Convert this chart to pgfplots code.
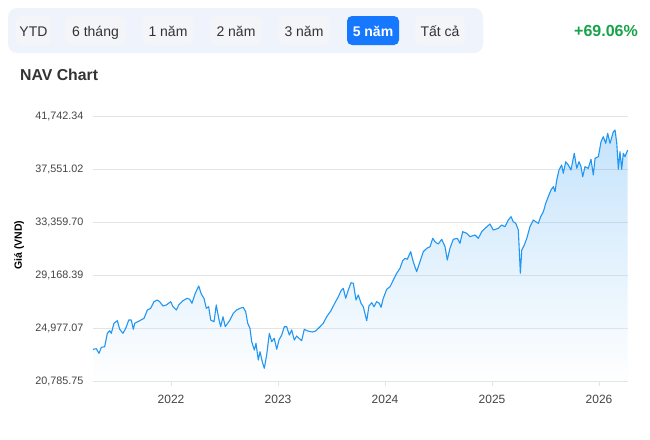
\documentclass[border=0pt]{standalone}
\usepackage{fontspec}
\setmainfont{Liberation Sans}
\usepackage{pgfplots}
\pgfplotsset{compat=1.18}
\usepackage{pgfplotstable}
\definecolor{navline}{RGB}{33,150,243}
\definecolor{barbg}{RGB}{239,244,252}
\definecolor{btnbg}{RGB}{243,245,249}
\definecolor{selbtn}{RGB}{22,119,255}
\definecolor{btntext}{RGB}{51,51,51}
\definecolor{pctgreen}{RGB}{22,163,74}
\definecolor{titletext}{RGB}{51,51,51}
\definecolor{ticktext}{RGB}{68,68,68}
\definecolor{gridc}{RGB}{228,228,228}

\pgfplotstableread{
x y
2021.271 23292
2021.302 23340
2021.327 22976
2021.349 23451
2021.380 23498
2021.405 24558
2021.427 24763
2021.442 24558
2021.467 25349
2021.498 25554
2021.521 24874
2021.551 24558
2021.577 24953
2021.605 25610
2021.629 25610
2021.648 24874
2021.661 25349
2021.707 25554
2021.748 25744
2021.779 26400
2021.810 26535
2021.841 27057
2021.872 27191
2021.894 27057
2021.925 26717
2021.956 26796
2021.997 27057
2022.019 26661
2022.050 26400
2022.072 26796
2022.112 27136
2022.150 27326
2022.175 27247
2022.196 26930
2022.227 27721
2022.259 28298
2022.283 27666
2022.308 27326
2022.330 26535
2022.352 26661
2022.371 25610
2022.402 25475
2022.423 26796
2022.446 25744
2022.464 25080
2022.486 25871
2022.507 25080
2022.551 25610
2022.582 26140
2022.614 26400
2022.645 26535
2022.675 26614
2022.698 26266
2022.717 25349
2022.738 24953
2022.754 23894
2022.779 23237
2022.794 23767
2022.816 22446
2022.832 23103
2022.853 22312
2022.872 21790
2022.894 22842
2022.919 24558
2022.941 23894
2022.965 24162
2022.988 23292
2023.009 24028
2023.035 24423
2023.059 25080
2023.081 25080
2023.106 24423
2023.128 24819
2023.152 24028
2023.175 24344
2023.196 24162
2023.221 23973
2023.246 24874
2023.278 24740
2023.321 24661
2023.352 24740
2023.393 25080
2023.423 25349
2023.455 25871
2023.495 26345
2023.533 26978
2023.564 27452
2023.589 27927
2023.610 28117
2023.633 27326
2023.657 27982
2023.682 28559
2023.704 28512
2023.729 27191
2023.750 27587
2023.776 26930
2023.797 26661
2023.829 25554
2023.850 26717
2023.876 26978
2023.897 26661
2023.922 27057
2023.947 26930
2023.963 26614
2023.984 27326
2024.016 28038
2024.047 28243
2024.078 28773
2024.109 29303
2024.140 29698
2024.165 30299
2024.187 30489
2024.208 30410
2024.240 31011
2024.264 30220
2024.296 29429
2024.327 30220
2024.358 31011
2024.390 31280
2024.421 31406
2024.446 32071
2024.467 31802
2024.498 31620
2024.530 31991
2024.561 31406
2024.582 30354
2024.607 31280
2024.638 31991
2024.676 32071
2024.701 31675
2024.726 32592
2024.764 32466
2024.794 32197
2024.841 32331
2024.872 32071
2024.904 32592
2024.935 32861
2024.981 33201
2025.012 32727
2025.059 32861
2025.091 33122
2025.121 32988
2025.152 33518
2025.178 33779
2025.199 33383
2025.222 33257
2025.246 32727
2025.265 29303
2025.278 31145
2025.302 31541
2025.325 32071
2025.355 32988
2025.386 33518
2025.409 33383
2025.433 33257
2025.455 33779
2025.480 34174
2025.502 34838
2025.526 35360
2025.551 35890
2025.573 36151
2025.589 35756
2025.605 36681
2025.626 37472
2025.651 37867
2025.666 37211
2025.689 38128
2025.713 37867
2025.738 37472
2025.769 38793
2025.792 37606
2025.813 38128
2025.832 37733
2025.848 36942
2025.869 37733
2025.900 37606
2025.925 38318
2025.947 37076
2025.963 38397
2025.994 38524
2026.019 39710
2026.040 40105
2026.063 39583
2026.081 40374
2026.103 39583
2026.134 40500
2026.150 40635
2026.166 39583
2026.181 37527
2026.196 38919
2026.212 37527
2026.227 38793
2026.243 38524
2026.268 39053
}\navdata

\begin{document}
\begin{tikzpicture}[x=1pt,y=1pt]
\useasboundingbox (0,0) rectangle (650,-439);
\fill[white] (0,0) rectangle (650,-439);
% range selector bar
\fill[barbg, rounded corners=9pt] (8,-8) rectangle (483,-53);
\foreach \a/\b in {16/51, 65/126, 142/194, 210/262, 278/330, 415/465}
  {\fill[btnbg, rounded corners=5pt] (\a,-16) rectangle (\b,-45);}
\fill[selbtn, rounded corners=5pt] (347,-16) rectangle (399,-45);
\begin{scope}[every node/.style={font=\fontsize{14}{16}\selectfont, text=btntext, inner sep=0, anchor=base}]
\node at (33.5,-36) {YTD};
\node at (95.5,-36) {6 tháng};
\node at (168,-36) {1 năm};
\node at (236,-36) {2 năm};
\node at (304,-36) {3 năm};
\node[text=white, font=\bfseries\fontsize{14}{16}\selectfont] at (373,-36) {5 năm};
\node at (440,-36) {Tất cả};
\end{scope}
\node[anchor=base east, inner sep=0, font=\bfseries\fontsize{16}{18}\selectfont, text=pctgreen] at (638,-36.5) {+69.06\%};
\node[anchor=base west, inner sep=0, font=\bfseries\fontsize{15.8}{18}\selectfont, text=titletext] at (20,-80.5) {NAV Chart};
\node[rotate=90, inner sep=0, font=\bfseries\fontsize{10.5}{12}\selectfont, text=black] at (19,-245) {Giá (VND)};

\begin{axis}[
  at={(93pt,-381pt)}, anchor=south west,
  scale only axis, width=535pt, height=265pt,
  xmin=2021.271, xmax=2026.271,
  ymin=20785.75, ymax=41742.34,
  scaled y ticks=false, scaled x ticks=false,
  axis x line*=bottom, axis y line*=left,
  y axis line style={draw=none},
  x axis line style={draw=gridc},
  xtick={2022,2023,2024,2025,2026},
  xticklabels={2022,2023,2024,2025,2026},
  xtick align=outside,
  major tick length=5pt,
  x tick style={draw=gridc},
  ytick={20785.75,24977.07,29168.39,33359.70,37551.02,41742.34},
  yticklabels={{20,785.75},{24,977.07},{29,168.39},{33,359.70},{37,551.02},{41,742.34}},
  ytick align=inside,
  y tick style={draw=none},
  ymajorgrids,
  major grid style={draw=gridc, line width=0.8pt},
  yticklabel style={font=\fontsize{10.8}{12}\selectfont, text=ticktext, anchor=east, xshift=-6pt},
  xticklabel style={font=\fontsize{12}{14}\selectfont, text=ticktext, yshift=-6pt},
  clip=false,
]
\addplot[draw=none, top color=navline, bottom color=white, fill opacity=0.26]
  table[x=x,y=y] {\navdata} -- (2026.268,20785.75) -- (2021.271,20785.75) -- cycle;
\addplot[navline, line width=1.1pt, line join=round, mark=none] table[x=x,y=y] {\navdata};
\end{axis}
\end{tikzpicture}
\end{document}
